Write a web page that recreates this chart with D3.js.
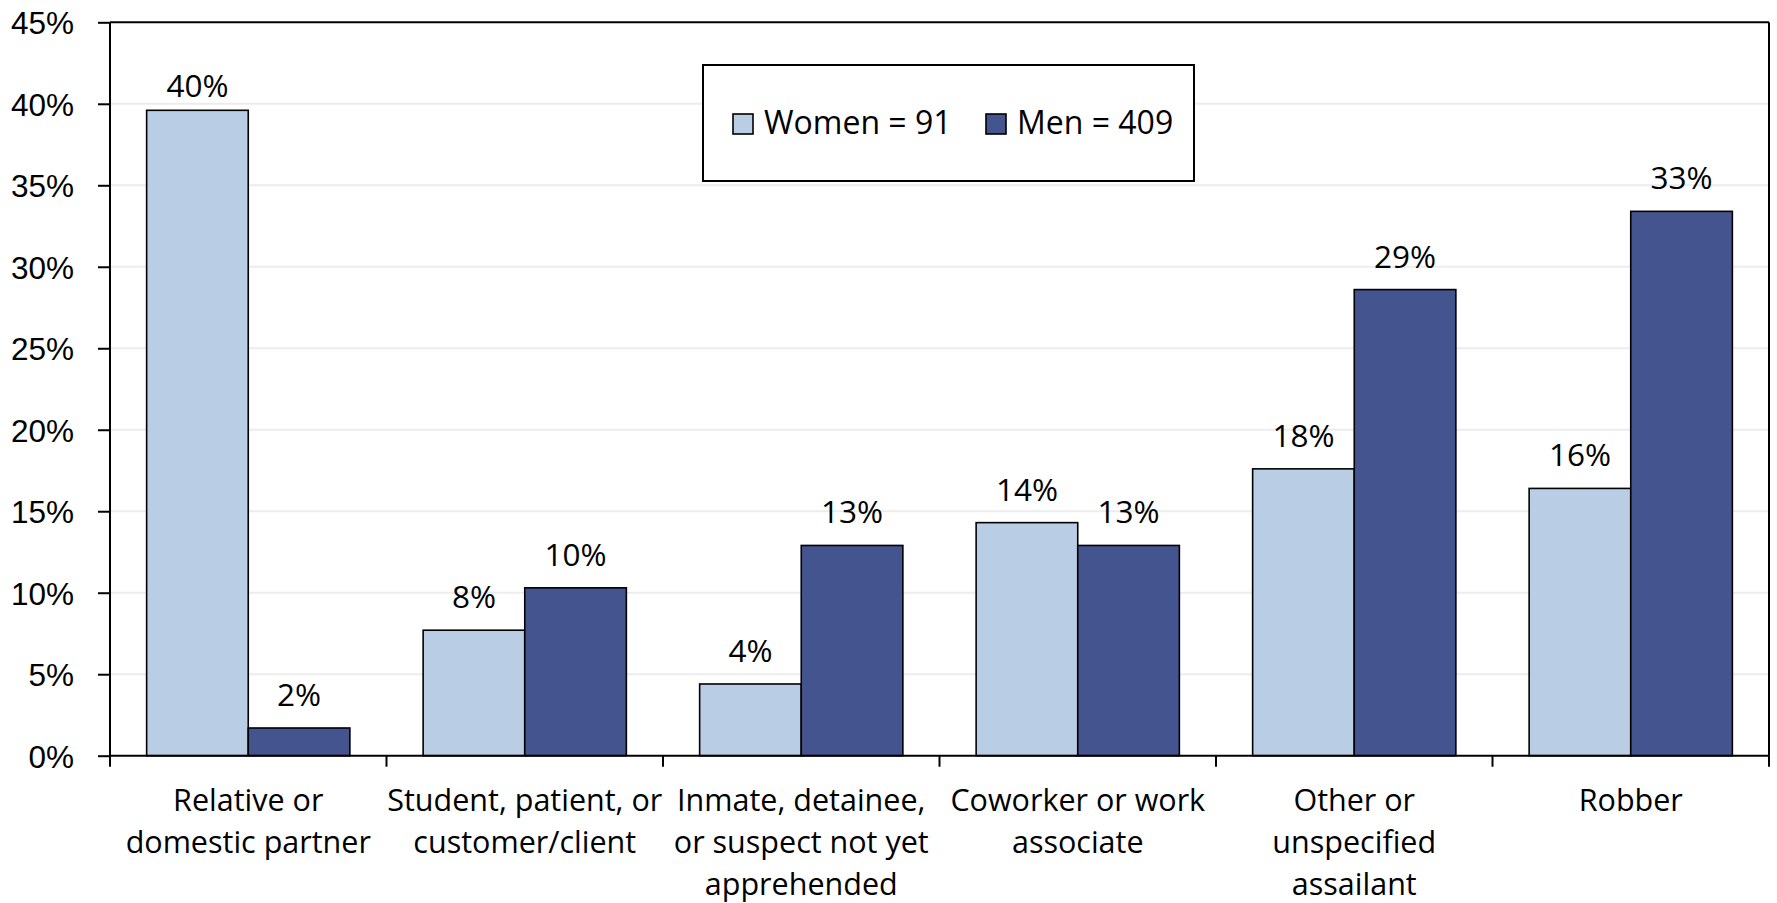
<!DOCTYPE html>
<html lang="en">
<head>
  <meta charset="UTF-8">
  <title>Assailant type by victim sex</title>
  <script src="https://d3js.org/d3.v7.min.js"></script>
  <style>
    body {
      margin: 0;
      background: #fff;
      font-family: "Open Sans", sans-serif;
    }
    svg text {
      fill: #000;
    }
  </style>
</head>
<body>
  <svg width="1777" height="903"></svg>

  <script>
    // data
    const categories = [
      ["Relative or", "domestic partner"],
      ["Student, patient, or", "customer/client"],
      ["Inmate, detainee,", "or suspect not yet", "apprehended"],
      ["Coworker or work", "associate"],
      ["Other or", "unspecified", "assailant"],
      ["Robber"]
    ];
    const seriesNames = ["Women = 91", "Men = 409"];
    const women = [0.396, 0.077, 0.044, 0.143, 0.176, 0.164];
    const men   = [0.017, 0.103, 0.129, 0.129, 0.286, 0.334];
    const yTicks = [0, 0.05, 0.10, 0.15, 0.20, 0.25, 0.30, 0.35, 0.40, 0.45];
    const colors = ["#B9CDE5", "#44548E"];

    const svg = d3.select("svg"),
          margin = {top: 22, right: 8, bottom: 147, left: 110},
          width = 1777,
          height = 903;

    const rows = categories.map((c, i) => ({ key: i, lines: c, values: [women[i], men[i]] }));

    const x0 = d3.scaleBand()
      .domain(rows.map(d => d.key))
      .range([margin.left, width - margin.right])
      .paddingInner(0.265)
      .paddingOuter(0.1325);

    const x1 = d3.scaleBand()
      .domain([0, 1])
      .range([0, x0.bandwidth()]);

    const y = d3.scaleLinear()
      .domain([0, 0.45])
      .range([height - margin.bottom - 0.3, margin.top + 0.3]);

    const pct = d3.format(".0%");

    // gridlines
    svg.append("g")
      .selectAll("line")
      .data(yTicks.slice(1, -1))
      .join("line")
      .attr("x1", margin.left)
      .attr("x2", width - margin.right)
      .attr("y1", d => y(d))
      .attr("y2", d => y(d))
      .attr("stroke", "#ECECEC")
      .attr("stroke-width", 2);

    // bars
    const groups = svg.append("g")
      .selectAll("g")
      .data(rows)
      .join("g")
      .attr("transform", d => `translate(${x0(d.key)},0)`);

    groups.selectAll("rect")
      .data(d => d.values.map((v, s) => ({ v, s })))
      .join("rect")
      .attr("x", d => x1(d.s))
      .attr("y", d => y(d.v))
      .attr("width", x1.bandwidth())
      .attr("height", d => y(0) - y(d.v))
      .attr("fill", d => colors[d.s])
      .attr("stroke", "#000")
      .attr("stroke-width", 1.6);

    // value labels; the tallest one sits a bit closer to its bar, as in the source
    groups.selectAll("text")
      .data(d => d.values.map((v, s) => ({ v, s })))
      .join("text")
      .attr("x", d => x1(d.s) + x1.bandwidth() / 2)
      .attr("y", d => Math.max(y(d.v) - 22, y(0.40) - 7))
      .attr("text-anchor", "middle")
      .style("font-size", "31.5px")
      .text(d => pct(d.v));

    // y axis
    const yAxis = svg.append("g")
      .attr("transform", `translate(${margin.left},0)`)
      .call(d3.axisLeft(y).tickValues(yTicks).tickFormat(pct).tickSize(12).tickPadding(24));
    yAxis.select(".domain").remove();
    yAxis.selectAll(".tick line").attr("stroke", "#000").attr("stroke-width", 2);
    yAxis.selectAll("text")
      .attr("font-family", null)
      .attr("font-size", null)
      .style("font-size", "31.5px")
      .attr("dy", "0.36em");

    // frame: left, top, right, bottom
    const x0Start = margin.left, x0End = width - margin.right;
    svg.append("line")
      .attr("x1", x0Start).attr("x2", x0Start)
      .attr("y1", y(0.45)).attr("y2", y(0) + 11)
      .attr("stroke", "#000").attr("stroke-width", 2);
    svg.append("line")
      .attr("x1", x0Start).attr("x2", x0End)
      .attr("y1", y(0.45)).attr("y2", y(0.45))
      .attr("stroke", "#000").attr("stroke-width", 2);
    svg.append("line")
      .attr("x1", x0End).attr("x2", x0End)
      .attr("y1", y(0.45)).attr("y2", y(0))
      .attr("stroke", "#000").attr("stroke-width", 2);
    svg.append("line")
      .attr("x1", x0Start).attr("x2", x0End)
      .attr("y1", y(0)).attr("y2", y(0))
      .attr("stroke", "#000").attr("stroke-width", 2);

    // category ticks between groups
    const step = x0.step();
    svg.append("g")
      .selectAll("line")
      .data(d3.range(1, rows.length + 1))
      .join("line")
      .attr("x1", i => x0Start + i * step)
      .attr("x2", i => x0Start + i * step)
      .attr("y1", y(0))
      .attr("y2", y(0) + 11)
      .attr("stroke", "#000")
      .attr("stroke-width", 2);

    // category labels
    const catLabels = svg.append("g")
      .selectAll("text")
      .data(rows)
      .join("text")
      .attr("text-anchor", "middle")
      .style("font-size", "30.5px")
      .attr("transform", d => `translate(${x0(d.key) + x0.bandwidth() / 2},${y(0) + 55})`);
    catLabels.selectAll("tspan")
      .data(d => d.lines)
      .join("tspan")
      .attr("x", 0)
      .attr("y", (_, i) => i * 42)
      .text(d => d);

    // legend
    const legend = svg.append("g").attr("transform", "translate(703,65)");
    legend.append("rect")
      .attr("width", 491)
      .attr("height", 116)
      .attr("fill", "#fff")
      .attr("stroke", "#000")
      .attr("stroke-width", 2);
    const legendX = [30, 283];
    seriesNames.forEach((name, i) => {
      const item = legend.append("g").attr("transform", `translate(${legendX[i]},49)`);
      item.append("rect")
        .attr("width", 20)
        .attr("height", 20)
        .attr("fill", colors[i])
        .attr("stroke", "#000")
        .attr("stroke-width", 1.6);
      item.append("text")
        .attr("x", 31)
        .attr("y", 20)
        .style("font-size", "32px")
        .text(name);
    });
  </script>
</body>
</html>
